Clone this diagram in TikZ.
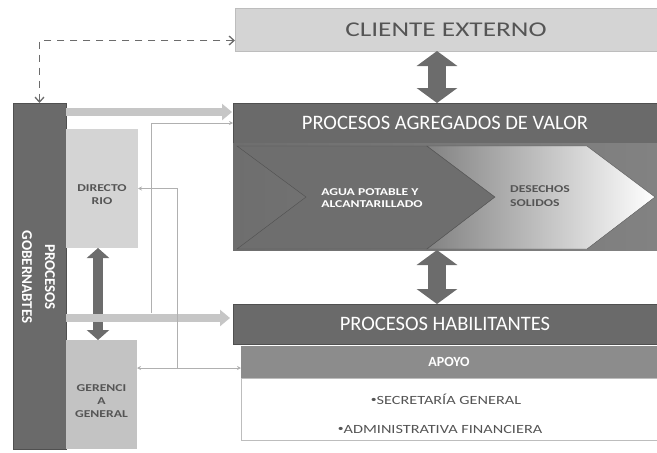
\documentclass[tikz,border=0pt]{standalone}
\usepackage{fontspec}
\setmainfont{Carlito}
\newfontfamily\widefont[FakeStretch=1.3]{Carlito}
\usetikzlibrary{arrows.meta}

\definecolor{lightbox}{HTML}{D4D4D4}
\definecolor{lightline}{HTML}{BDBDBD}
\definecolor{darkbox}{HTML}{6A6A6A}
\definecolor{darkline}{HTML}{505050}
\definecolor{midbox}{HTML}{8C8C8C}
\definecolor{textgray}{HTML}{555555}
\definecolor{arrowgray}{HTML}{6C6C6C}
\definecolor{softgray}{HTML}{C6C6C6}
\definecolor{thingray}{HTML}{B0B0B0}
\definecolor{chevdark}{HTML}{6E6E6E}
\definecolor{chevmid}{HTML}{828282}

\newcommand{\bul}{\raisebox{1.2pt}{\fontsize{9}{9}\selectfont\textbullet}}

\begin{document}
\begin{tikzpicture}[x=1pt,y=-1pt,
    blok/.style={inner sep=0pt, outer sep=0pt, align=center},
    bigarrow/.style={draw=arrowgray, line width=18pt,
        {Triangle[width=40pt,length=15pt]}-{Triangle[width=40pt,length=15pt]}},
    smallarrow/.style={draw=arrowgray, line width=10pt,
        {Triangle[width=22pt,length=10pt]}-{Triangle[width=22pt,length=10pt]}},
    softarrow/.style={draw=softgray, line width=8pt,
        -{Triangle[width=16pt,length=10pt]}},
    thinlink/.style={draw=thingray, line width=0.7pt, -{Stealth[length=4pt,width=4pt]}},
    dashlink/.style={draw=arrowgray, line width=1.3pt, dash pattern=on 7pt off 6pt,
        {Straight Barb[length=5pt,width=9pt]}-{Straight Barb[length=5pt,width=9pt]}}]
    \useasboundingbox (0,0) rectangle (657,453);

    % right column
    \node[blok, fill=lightbox, draw=lightline, minimum width=422pt, minimum height=43pt,
        text=textgray, font=\widefont\fontsize{21}{24}\selectfont] (cliente) at (446,29.5) {CLIENTE EXTERNO};
    \node[blok, fill=darkbox, draw=darkline, minimum width=424pt, minimum height=40pt,
        text=white, font=\fontsize{20.5}{24}\selectfont] (valor) at (445,123) {PROCESOS AGREGADOS DE VALOR};
    \node[blok, minimum width=424pt, minimum height=107pt] (cadena) at (445,196.5) {};

    % value chain
    \shade[left color=chevdark, right color=chevmid] (cadena.north west) rectangle (cadena.south east);
    \filldraw[fill=chevdark, draw=darkline] (237,146) -- (427,146) -- (495,197) -- (427,249)
        -- (237,249) -- (306,197) -- cycle;
    \shade[left color=chevmid, right color=white] (427,146) -- (587,146) -- (655,197) -- (587,249)
        -- (427,249) -- (495,197) -- cycle;
    \draw[darkline] (427,146) -- (587,146) -- (655,197) -- (587,249) -- (427,249) -- (495,197) -- cycle;
    \node[blok, align=left, text=white, font=\widefont\bfseries\fontsize{10.5}{11.5}\selectfont]
        (agua) at (372,198) {AGUA POTABLE Y\\ALCANTARILLADO};
    \node[blok, align=left, text=textgray, font=\widefont\bfseries\fontsize{10.5}{14}\selectfont]
        (desechos) at (540,196) {DESECHOS\\SOLIDOS};

    \node[blok, fill=darkbox, draw=darkline, minimum width=424pt, minimum height=40pt,
        text=white, font=\fontsize{20.5}{24}\selectfont] (habil) at (445,324) {PROCESOS HABILITANTES};
    \node[blok, fill=midbox, minimum width=416pt, minimum height=32pt,
        text=white, font=\bfseries\fontsize{14}{16}\selectfont] (apoyo) at (449,362) {APOYO};
    \node[blok, fill=white, draw=lightline, minimum width=416pt, minimum height=62pt] (lista) at (449,409) {};
    \node[blok, text=textgray, font=\widefont\fontsize{12.5}{14}\selectfont] (secre) at (446,399) {\bul SECRETAR\'IA GENERAL};
    \node[blok, text=textgray, font=\widefont\fontsize{12.5}{14}\selectfont] (admin) at (440,429) {\bul ADMINISTRATIVA FINANCIERA};

    % left column
    \node[blok, fill=darkbox, draw=darkline, minimum width=53pt, minimum height=346pt] (gob) at (39.5,276) {};
    \node[blok, rotate=-90, text=white, font=\bfseries\fontsize{15}{23}\selectfont] (gobtxt) at (38.5,277)
        {PROCESOS\\GOBERNABTES};
    \node[blok, fill=lightbox, minimum width=72pt, minimum height=119pt] (dir) at (102,188.5) {};
    \node[blok, text=textgray, font=\widefont\bfseries\fontsize{10.5}{13}\selectfont] (dirtxt) at (102,195)
        {DIRECTO\\RIO};
    \node[blok, fill=lightbox!92!black, minimum width=71pt, minimum height=109pt] (ger) at (101.5,394.5) {};
    \node[blok, text=textgray, font=\widefont\bfseries\fontsize{10.5}{13}\selectfont] (gertxt) at (101.5,401)
        {GERENCI\\A\\GENERAL};

    % connectors
    \draw[dashlink] ([yshift=-11pt]cliente.west) -| (gob.north);
    \draw[bigarrow] ([xshift=-9pt]cliente.south) -- ([xshift=-8pt]valor.north);
    \draw[bigarrow] ([xshift=-8pt]cadena.south) -- ([xshift=-8pt]habil.north);
    \draw[smallarrow] ([xshift=-4pt]dir.south) -- ([xshift=-3.5pt]ger.north);

    \coordinate (a1) at ([yshift=11pt]valor.west);
    \coordinate (a2) at ([yshift=6pt]habil.west);
    \draw[softarrow] (a1 -| gob.east) -- ([xshift=-1pt]a1);
    \draw[softarrow] (a2 -| gob.east) -- ([xshift=-3pt]a2);

    \coordinate (c1) at (151,313);
    \coordinate (c2) at (177,368);
    \draw[thinlink] (c1) |- (valor.west);
    \draw[thinlink] (c2) |- (dir.east);
    \draw[thinlink] (c2) -- (c2 -| ger.east);
    \draw[thinlink] (c2) -- (c2 -| apoyo.west);
\end{tikzpicture}
\end{document}
